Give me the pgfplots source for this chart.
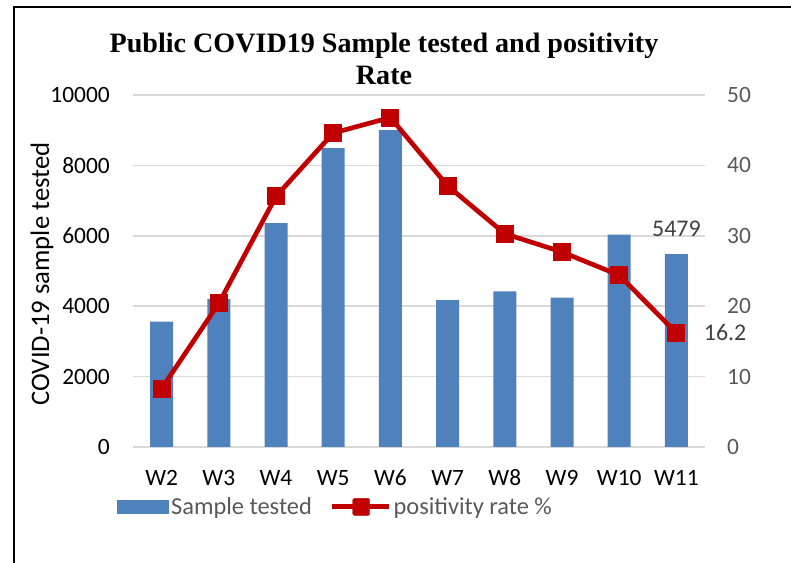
\documentclass[border=0pt]{standalone}
\usepackage{fontspec}
\setmainfont{Carlito}
\newfontfamily\titlefont{Liberation Serif}
\usepackage{pgfplots}
\usepackage{pgfplotstable}
\pgfplotsset{compat=1.18}
\definecolor{barblue}{HTML}{4F81BD}
\definecolor{linered}{HTML}{C00000}
\definecolor{gridgray}{HTML}{D9D9D9}
\definecolor{labelgray}{HTML}{595959}
\definecolor{dlgray}{HTML}{404040}

\pgfplotstableread{
x n
0 3560
1 4200
2 6360
3 8490
4 9000
5 4175
6 4420
7 4240
8 6030
9 5479
}\samples

\pgfplotstableread{
x r
0 8.3
1 20.4
2 35.6
3 44.6
4 46.8
5 37.1
6 30.3
7 27.7
8 24.4
9 16.2
}\rates

\begin{document}
\begin{tikzpicture}[x=1bp,y=1bp]
\path[use as bounding box] (0,0) rectangle (791,563);
\draw[line width=2bp] (14.3,0) -- (14.3,555.7) -- (791,555.7);

\begin{axis}[
  at={(133bp,116bp)}, anchor=south west,
  scale only axis, width=572bp, height=352bp,
  xmin=-0.5, xmax=9.5, ymin=0, ymax=10000,
  xtick={0,...,9}, xticklabels={W2,W3,W4,W5,W6,W7,W8,W9,W10,W11},
  ytick={0,2000,...,10000},
  scaled y ticks=false,
  axis line style={draw=none},
  major tick length=0pt,
  ymajorgrids, grid style={gridgray, line width=1.5bp},
  font=\fontsize{23.5}{28}\selectfont,
  /pgf/number format/assume math mode=true,
  /pgf/number format/1000 sep={},
  yticklabel style={inner sep=0pt, anchor=east, xshift=-23bp},
  xticklabel style={inner sep=0pt, anchor=center, yshift=-31bp},
  legend columns=2,
  legend style={at={(axis description cs:-0.028,-0.17)}, anchor=west,
    draw=none, fill=none, inner sep=0pt, text=labelgray,
    font=\fontsize{24.5}{28}\selectfont,
    nodes={inner sep=2bp},
    /tikz/every even column/.append style={column sep=16bp}},
]
\addplot[ybar, bar width=23bp, fill=barblue, draw=none,
  legend image code/.code={\fill[barblue] (0bp,-7bp) rectangle (52bp,7bp);}]
  table[x=x,y=n] {\samples};
\addlegendentry{Sample tested}
\addlegendimage{legend image code/.code={
  \draw[linered, line width=4.7bp] (0bp,0bp) -- (57bp,0bp);
  \fill[linered, rounded corners=1.5bp] (20.5bp,-8.5bp) rectangle (37.5bp,8.5bp);}}
\addlegendentry{positivity rate \%}
\node[text=dlgray, anchor=center, font=\fontsize{24}{28}\selectfont] at (axis cs:9,5479) [yshift=25bp] {5479};
\end{axis}

\begin{axis}[
  at={(133bp,116bp)}, anchor=south west,
  scale only axis, width=572bp, height=352bp,
  xmin=-0.5, xmax=9.5, ymin=0, ymax=50,
  axis y line*=right, axis x line=none,
  ytick={0,10,...,50},
  clip=false,
  axis line style={draw=none},
  major tick length=0pt,
  font=\fontsize{23.5}{28}\selectfont,
  /pgf/number format/assume math mode=true,
  yticklabel style={inner sep=0pt, anchor=west, xshift=22bp, text=labelgray},
]
\addplot[linered, line width=4.7bp, mark=square*, mark size=8.5bp,
  mark options={fill=linered, draw=linered, line width=0pt}]
  table[x=x,y=r] {\rates};
\node[text=dlgray, anchor=west, font=\fontsize{24}{28}\selectfont] at (axis cs:9,16.2) [xshift=24bp] {16.2};
\end{axis}

\node[rotate=90, anchor=center, font=\fontsize{26.8}{30}\selectfont] at (42,289) {COVID-19 sample tested};
\node[anchor=base, font=\titlefont\bfseries\fontsize{28.2}{34}\selectfont] at (384,510) {Public COVID19 Sample tested and positivity};
\node[anchor=base, font=\titlefont\bfseries\fontsize{28.2}{34}\selectfont] at (384,478) {Rate};
\end{tikzpicture}
\end{document}
